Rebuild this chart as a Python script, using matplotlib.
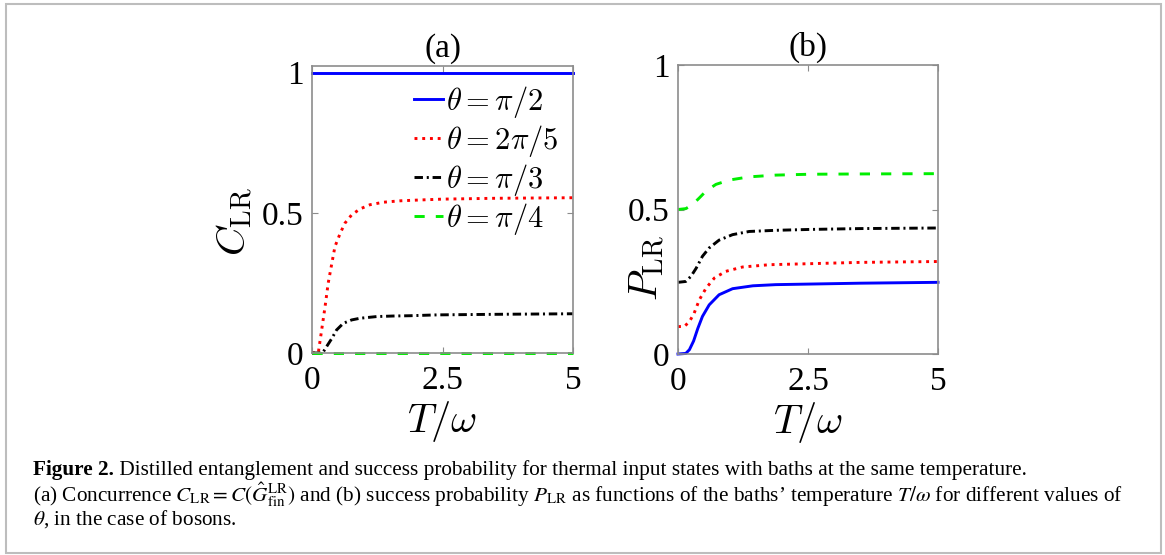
import matplotlib
matplotlib.use("Agg")
import matplotlib.pyplot as plt
from matplotlib.patches import Rectangle

# ---------------- data ----------------
xlim = (0, 5)
xticks = [0, 2.5, 5]
xticklabels = ["0", "2.5", "5"]
yticks = [0, 0.5, 1]
yticklabels = ["0", "0.5", "1"]
labels = [r"$\theta=\pi/2$", r"$\theta=2\pi/5$", r"$\theta=\pi/3$", r"$\theta=\pi/4$"]

# panel (a): concurrence C_LR
Ta_blue = [0, 5]
Ca_blue = [1.0, 1.0]
Ta_red = [0, 0.12, 0.185, 0.25, 0.31, 0.38, 0.44, 0.54, 0.63, 0.76, 0.92, 1.11, 1.37, 1.69, 2.07, 2.5, 3.5, 5.0]
Ca_red = [0, 0.0, 0.082, 0.165, 0.249, 0.32, 0.38, 0.427, 0.463, 0.493, 0.514, 0.529, 0.538, 0.543, 0.546, 0.549, 0.552, 0.554]
Ta_black = [0, 0.185, 0.22, 0.28, 0.38, 0.47, 0.60, 0.76, 0.92, 1.24, 1.56, 1.88, 2.39, 3.5, 5.0]
Ca_black = [0, 0.0, 0.005, 0.023, 0.052, 0.082, 0.106, 0.118, 0.124, 0.130, 0.132, 0.133, 0.136, 0.138, 0.140]
Ta_green = [0, 5]
Ca_green = [0.0, 0.0]

# panel (b): success probability P_LR
Tb_green = [0, 0.15, 0.28, 0.41, 0.54, 0.73, 0.99, 1.37, 1.88, 2.53, 3.5, 5.0]
Pb_green = [0.5, 0.503, 0.517, 0.54, 0.564, 0.587, 0.602, 0.613, 0.619, 0.622, 0.623, 0.624]
Tb_black = [0, 0.15, 0.25, 0.35, 0.47, 0.60, 0.79, 1.05, 1.37, 1.88, 2.53, 3.5, 5.0]
Pb_black = [0.248, 0.251, 0.269, 0.297, 0.338, 0.367, 0.394, 0.413, 0.424, 0.428, 0.431, 0.434, 0.436]
Tb_red = [0, 0.12, 0.22, 0.31, 0.41, 0.54, 0.70, 0.92, 1.24, 1.76, 2.53, 3.5, 5.0]
Pb_red = [0.095, 0.095, 0.112, 0.141, 0.1875, 0.228, 0.263, 0.286, 0.301, 0.309, 0.3125, 0.317, 0.320]
Tb_blue = [0, 0.15, 0.22, 0.30, 0.38, 0.47, 0.60, 0.79, 1.05, 1.44, 1.88, 2.53, 3.5, 5.0]
Pb_blue = [0, 0.002, 0.015, 0.045, 0.088, 0.13, 0.17, 0.205, 0.226, 0.236, 0.240, 0.242, 0.245, 0.248]

caption1_bold = "Figure 2."
caption1 = " Distilled entanglement and success probability for thermal input states with baths at the same temperature."
caption2 = (r"(a) Concurrence $C_{\rm LR} = C(\hat{G}^{\rm LR}_{\rm fin})$ and (b) success probability $P_{\rm LR}$"
            r" as functions of the baths’ temperature $T/\omega$ for different values of")
caption3 = r"$\theta$, in the case of bosons."

# ---------------- styling ----------------
plt.rcParams['font.family'] = ['Liberation Serif', 'DejaVu Serif']
plt.rcParams['mathtext.fontset'] = 'cm'

W, H = 1165, 555
fig = plt.figure(figsize=(W / 100, H / 100), dpi=100)

def fx(px):
    return px / W

def fy(py):
    return 1 - py / H

ax_a = fig.add_axes([fx(312), fy(353), fx(573) - fx(312), fy(66) - fy(353)])
ax_b = fig.add_axes([fx(678), fy(354), fx(938) - fx(678), fy(65) - fy(354)])

lw = 2.1
st_red = dict(color='#ff0000', lw=lw, linestyle=(0, (1, 1.65)))
st_black = dict(color='black', lw=lw, linestyle=(0, (2.9, 1.3, 0.7, 1.3)))
st_green = dict(color='#00ee00', lw=lw, linestyle=(0, (3.5, 3.8)))
st_blue = dict(color='#0000ff', lw=lw, linestyle='-')

ax_a.plot(Ta_blue, Ca_blue, label=labels[0], **st_blue)
ax_a.plot(Ta_red, Ca_red, label=labels[1], **st_red)
ax_a.plot(Ta_black, Ca_black, label=labels[2], **st_black)
ax_a.plot(Ta_green, Ca_green, label=labels[3], **st_green)

ax_b.plot(Tb_green, Pb_green, **st_green)
ax_b.plot(Tb_black, Pb_black, **st_black)
ax_b.plot(Tb_red, Pb_red, **st_red)
ax_b.plot(Tb_blue, Pb_blue, **st_blue)

spine_c = '#8c8c8c'
for ax, ylim, title in [(ax_a, (0, 1.024), "(a)"), (ax_b, (0, 1.0), "(b)")]:
    ax.set_xlim(*xlim)
    ax.set_ylim(*ylim)
    ax.set_xticks(xticks)
    ax.set_xticklabels(xticklabels)
    ax.set_yticks(yticks)
    ax.set_yticklabels(yticklabels)
    ax.tick_params(direction='in', length=4, width=0.8, color=spine_c, labelsize=24,
                   top=True, right=True, pad=6)
    ax.tick_params(axis='x', pad=9)
    for sp in ax.spines.values():
        sp.set_color(spine_c)
        sp.set_linewidth(1.2)
    ax.set_title(title, fontsize=24, pad=7)
    ax.set_xlabel(r"$T/\omega$", fontsize=29, labelpad=2)
    for line in ax.get_lines():
        line.set_clip_on(False)

ax_a.set_ylabel(r"$C_{\rm LR}$", fontsize=29)
ax_b.set_ylabel(r"$P_{\rm LR}$", fontsize=29)
ax_a.yaxis.set_label_coords((255 - 312) / 261, (353 - 222) / 287)
ax_b.yaxis.set_label_coords((667 - 678) / 260, (354 - 268) / 289)

leg = ax_a.legend(loc='upper left', bbox_to_anchor=((414 - 312) / 261, (353 - 84) / 287),
                  frameon=False, fontsize=22, handlelength=0.95, handletextpad=0.1,
                  labelspacing=0.10, borderpad=0, borderaxespad=0)

# figure frame
fig.patches.append(Rectangle((fx(6), fy(553)), fx(1161) - fx(6), fy(4) - fy(553),
                             transform=fig.transFigure, fill=False,
                             edgecolor='#bdbdbd', lw=1.5))

# caption
cap_fs = 15.3
t1 = fig.text(fx(33), fy(475), caption1_bold, fontsize=cap_fs, fontweight='bold', va='baseline')
fig.canvas.draw()
bb = t1.get_window_extent()
fig.text(bb.x1 / W, fy(475), caption1, fontsize=cap_fs, va='baseline')
fig.text(fx(33), fy(502), caption2, fontsize=cap_fs, va='baseline', math_fontfamily='stix')
fig.text(fx(33), fy(525), caption3, fontsize=cap_fs, va='baseline', math_fontfamily='stix')

fig.savefig("out.png", dpi=100)
